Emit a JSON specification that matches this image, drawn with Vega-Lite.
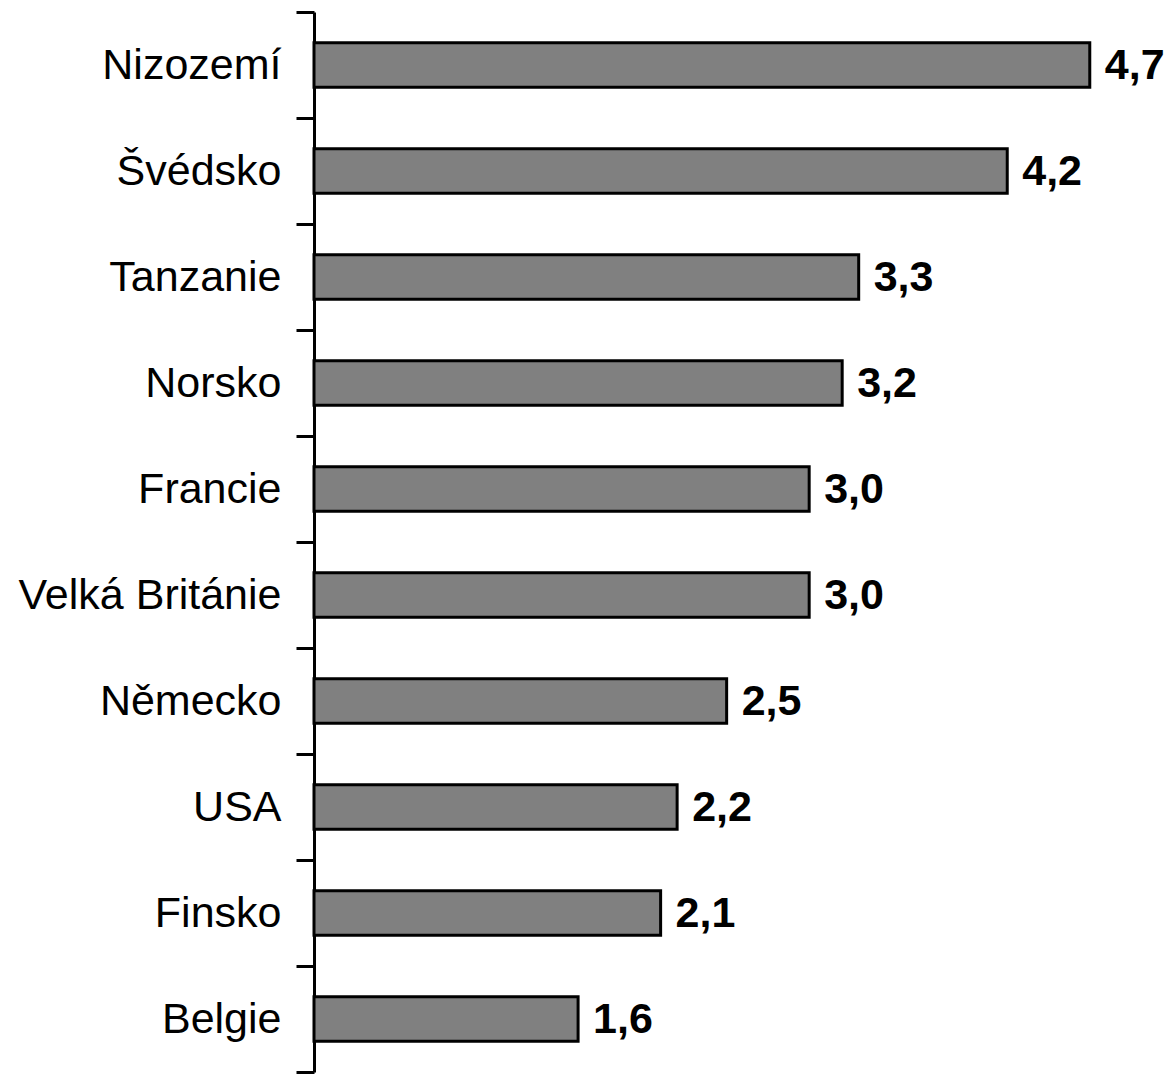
{
  "$schema": "https://vega.github.io/schema/vega-lite/v6.json",
  "autosize": {"type": "none"},
  "padding": {"left": 314, "top": 12, "right": 0, "bottom": 2},
  "width": 855,
  "height": 1060,
  "background": "white",
  "config": {
    "view": {"stroke": null},
    "locale": {"number": {"decimal": ",", "thousands": " ", "grouping": [3], "currency": ["", " Kč"]}}
  },
  "data": {
    "values": [
      {"country": "Nizozemí", "value": 4.7},
      {"country": "Švédsko", "value": 4.2},
      {"country": "Tanzanie", "value": 3.3},
      {"country": "Norsko", "value": 3.2},
      {"country": "Francie", "value": 3.0},
      {"country": "Velká Británie", "value": 3.0},
      {"country": "Německo", "value": 2.5},
      {"country": "USA", "value": 2.2},
      {"country": "Finsko", "value": 2.1},
      {"country": "Belgie", "value": 1.6}
    ]
  },
  "encoding": {
    "y": {
      "field": "country",
      "type": "nominal",
      "sort": null,
      "scale": {"paddingInner": 0, "paddingOuter": 0},
      "axis": {
        "title": null,
        "tickBand": "extent",
        "tickSize": 18,
        "tickWidth": 3,
        "tickColor": "black",
        "domainWidth": 3,
        "domainColor": "black",
        "labelPadding": 15,
        "labelFont": "Liberation Sans",
        "labelFontSize": 43,
        "labelColor": "black",
        "labelLimit": 400
      }
    },
    "x": {
      "field": "value",
      "type": "quantitative",
      "scale": {"domain": [0, 5.18], "nice": false},
      "axis": null
    }
  },
  "layer": [
    {
      "mark": {"type": "bar", "fill": "#808080", "stroke": "black", "strokeWidth": 3, "height": {"band": 0.42}}
    },
    {
      "mark": {"type": "text", "align": "left", "baseline": "middle", "dx": 15, "dy": 1, "font": "Liberation Sans", "fontSize": 43, "fontWeight": "bold", "color": "black"},
      "encoding": {
        "text": {"field": "value", "type": "quantitative", "format": ".1f"}
      }
    }
  ]
}
